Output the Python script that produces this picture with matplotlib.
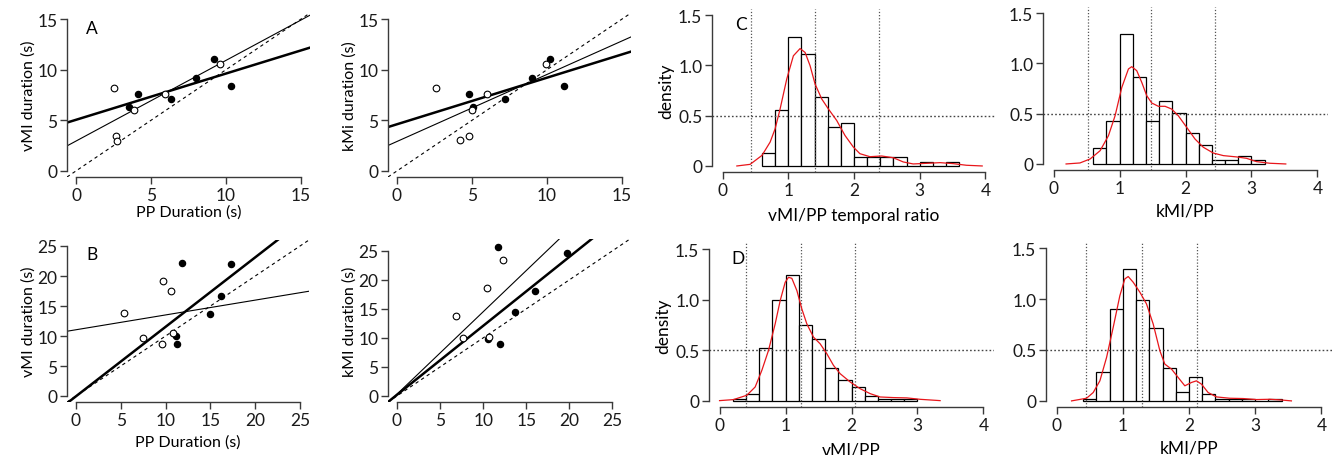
import matplotlib
matplotlib.use("Agg")
import matplotlib.pyplot as plt
import numpy as np

plt.rcParams['font.family'] = ['Lato', 'DejaVu Sans']
plt.rcParams['font.size'] = 11

W, H = 1336, 456

# ---------------- scatter data ----------------
# Panel A (vMI vs PP)
A_open_x = [2.56, 2.65, 2.76, 3.87, 5.94, 9.59]
A_open_y = [8.21, 3.43, 3.00, 6.00, 7.58, 10.55]
A_fill_x = [3.56, 4.16, 6.32, 7.99, 9.17, 10.33]
A_fill_y = [6.30, 7.55, 7.06, 9.13, 11.08, 8.34]
A_thick = (5.05, 0.457)
A_thin = (2.95, 0.797)

# Panel A2 (kMI vs PP)
A2_open_x = [2.62, 4.22, 4.82, 5.00, 6.00, 9.91]
A2_open_y = [8.21, 3.03, 3.43, 6.00, 7.62, 10.55]
A2_fill_x = [4.82, 5.07, 7.20, 9.00, 10.18, 11.16]
A2_fill_y = [7.55, 6.30, 7.09, 9.13, 11.08, 8.34]
A2_thick = (4.61, 0.46)
A2_thin = (2.91, 0.662)

# Panel B (vMI vs PP)
B_open_x = [5.35, 7.50, 9.73, 9.55, 10.55, 10.88]
B_open_y = [13.77, 9.73, 19.25, 8.63, 17.42, 10.50]
B_fill_x = [11.78, 11.14, 11.26, 14.97, 16.16, 17.35]
B_fill_y = [22.12, 10.07, 8.68, 13.72, 16.65, 22.07]
B_thick = (-0.05, 1.158)
B_thin = (11.04, 0.247)

# Panel B2 (kMI vs PP)
B2_open_x = [6.85, 7.70, 10.45, 12.35, 10.68]
B2_open_y = [13.79, 10.01, 18.59, 23.40, 10.24]
B2_fill_x = [11.76, 10.60, 12.00, 13.70, 15.98, 19.70]
B2_fill_y = [25.69, 9.84, 8.87, 14.42, 18.08, 24.60]
B2_thick = (0.2, 1.188)
B2_thin = (0.3, 1.42)

# ---------------- histogram data ----------------
C_edges = [0.6, 0.8, 1.0, 1.2, 1.4, 1.6, 1.8, 2.0, 2.2, 2.4, 2.6, 2.8, 3.0, 3.2, 3.4, 3.6]
C_dens = [0.129, 0.557, 1.279, 1.111, 0.682, 0.386, 0.425, 0.086, 0.086, 0.086, 0.086, 0.0, 0.043, 0.0, 0.043]
C_vlines = [0.435, 1.408, 2.38]
C_kde_x = [0.218, 0.42, 0.6, 0.724, 0.8, 0.876, 0.977, 1.078, 1.18, 1.256, 1.332, 1.408, 1.509, 1.61,
           1.737, 1.863, 1.99, 2.09, 2.243, 2.42, 2.597, 2.749, 2.901, 3.1, 3.31, 3.51, 3.71, 3.95]
C_kde_y = [0.0, 0.016, 0.105, 0.237, 0.369, 0.567, 0.864, 1.095, 1.167, 1.128, 0.996, 0.814, 0.666, 0.567,
           0.452, 0.303, 0.188, 0.122, 0.092, 0.099, 0.082, 0.04, 0.02, 0.026, 0.033, 0.023, 0.007, 0.0]

E_edges = [0.6, 0.8, 1.0, 1.2, 1.4, 1.6, 1.8, 2.0, 2.2, 2.4, 2.6, 2.8, 3.0, 3.2]
E_dens = [0.156, 0.427, 1.291, 0.861, 0.427, 0.623, 0.503, 0.311, 0.192, 0.039, 0.039, 0.078, 0.039]
E_vlines = [0.515, 1.483, 2.441]
E_kde_x = [0.19, 0.40, 0.555, 0.706, 0.832, 0.933, 1.034, 1.135, 1.185, 1.261, 1.337, 1.412, 1.488, 1.589,
           1.69, 1.79, 1.89, 2.018, 2.144, 2.27, 2.42, 2.573, 2.774, 2.926, 3.077, 3.28, 3.52]
E_kde_y = [0.0, 0.01, 0.05, 0.132, 0.281, 0.48, 0.76, 0.944, 0.967, 0.927, 0.811, 0.679, 0.606, 0.573,
           0.573, 0.546, 0.48, 0.364, 0.248, 0.166, 0.109, 0.083, 0.07, 0.056, 0.023, 0.007, 0.0]

D_edges = [0.2, 0.4, 0.6, 0.8, 1.0, 1.2, 1.4, 1.6, 1.8, 2.0, 2.2, 2.4, 2.6, 2.8, 3.0]
D_dens = [0.023, 0.069, 0.522, 0.998, 1.247, 0.752, 0.614, 0.322, 0.207, 0.138, 0.046, 0.023, 0.023, 0.023]
D_vlines = [0.404, 1.232, 2.06]
D_kde_x = [0.0, 0.21, 0.414, 0.54, 0.641, 0.742, 0.843, 0.919, 0.995, 1.045, 1.096, 1.172, 1.247, 1.323,
           1.424, 1.525, 1.626, 1.727, 1.828, 1.98, 2.13, 2.283, 2.434, 2.636, 2.838, 3.04, 3.343]
D_kde_y = [0.003, 0.013, 0.056, 0.138, 0.302, 0.499, 0.761, 0.991, 1.172, 1.221, 1.211, 1.09, 0.909, 0.761,
           0.63, 0.564, 0.466, 0.351, 0.269, 0.187, 0.121, 0.072, 0.039, 0.033, 0.03, 0.016, 0.003]

F_edges = [0.4, 0.6, 0.8, 1.0, 1.2, 1.4, 1.6, 1.8, 2.0, 2.2, 2.4, 2.6, 2.8, 3.0, 3.2, 3.4]
F_dens = [0.023, 0.279, 0.899, 1.296, 0.991, 0.715, 0.322, 0.092, 0.23, 0.069, 0.023, 0.023, 0.023, 0.0, 0.023]
F_vlines = [0.448, 1.283, 2.123]
F_kde_x = [0.226, 0.453, 0.553, 0.654, 0.755, 0.855, 0.956, 1.031, 1.082, 1.157, 1.258, 1.358, 1.459, 1.56,
           1.635, 1.736, 1.836, 1.937, 2.038, 2.113, 2.189, 2.289, 2.415, 2.616, 2.818, 3.019, 3.22, 3.371, 3.547]
F_kde_y = [0.0, 0.026, 0.082, 0.197, 0.427, 0.722, 1.034, 1.198, 1.221, 1.165, 1.067, 0.952, 0.755, 0.492,
           0.361, 0.312, 0.23, 0.148, 0.181, 0.197, 0.164, 0.082, 0.039, 0.026, 0.023, 0.013, 0.016, 0.01, 0.0]

AX_COLOR = '#3a3a3a'
TICK_FS = 12.5
LABEL_FS = 11.5

fig = plt.figure(figsize=(W / 100, H / 100), dpi=100)


def px_axes(left, top, right, bottom):
    return fig.add_axes([left / W, 1 - bottom / H, (right - left) / W, (bottom - top) / H])


def style(ax, xt, yt, ylabels=None):
    for s in ['top', 'right']:
        ax.spines[s].set_visible(False)
    for s in ['left', 'bottom']:
        ax.spines[s].set_color(AX_COLOR)
        ax.spines[s].set_linewidth(1.0)
    ax.spines['bottom'].set_bounds(xt[0], xt[-1])
    ax.spines['left'].set_bounds(yt[0], yt[-1])
    ax.set_xticks(xt)
    ax.set_yticks(yt)
    if ylabels is not None:
        ax.set_yticklabels(ylabels)
    ax.tick_params(direction='out', length=5, width=1.0, color=AX_COLOR, labelsize=TICK_FS,
                   labelcolor='#1a1a1a', pad=2)
    ax.patch.set_alpha(0)


def scatter_panel(ax, ox, oy, fx, fy, thick, thin, lim, ticks):
    ax.set_xlim(*lim)
    ax.set_ylim(*lim)
    xx = np.array(lim)
    ax.plot(xx, xx, ls=(0, (3, 3)), color='black', lw=0.8)
    ax.plot(xx, thin[0] + thin[1] * xx, color='black', lw=0.8)
    ax.plot(xx, thick[0] + thick[1] * xx, color='black', lw=1.8)
    ax.plot(fx, fy, 'o', color='black', ms=4.4, mec='black')
    ax.plot(ox, oy, 'o', mfc='white', mec='black', ms=4.8, mew=0.8)
    style(ax, ticks, ticks)


axA = px_axes(67, 14, 310, 178)
scatter_panel(axA, A_open_x, A_open_y, A_fill_x, A_fill_y, A_thick, A_thin, (-0.6, 15.6), [0, 5, 10, 15])
axA.set_ylabel('vMI duration (s)', labelpad=1, fontsize=LABEL_FS)
axA.set_xlabel('PP Duration (s)', labelpad=1, fontsize=LABEL_FS)
axA.text(0.08, 0.88, 'A', transform=axA.transAxes, fontsize=12.5)

axA2 = px_axes(388, 14, 631, 178)
scatter_panel(axA2, A2_open_x, A2_open_y, A2_fill_x, A2_fill_y, A2_thick, A2_thin, (-0.6, 15.6), [0, 5, 10, 15])
axA2.set_ylabel('kMi duration (s)', labelpad=1, fontsize=LABEL_FS)

axB = px_axes(67, 241, 309, 403)
scatter_panel(axB, B_open_x, B_open_y, B_fill_x, B_fill_y, B_thick, B_thin, (-1.0, 26.0), [0, 5, 10, 15, 20, 25])
axB.set_ylabel('vMI duration (s)', labelpad=1, fontsize=LABEL_FS)
axB.set_xlabel('PP Duration (s)', labelpad=5, fontsize=LABEL_FS)
axB.text(0.08, 0.88, 'B', transform=axB.transAxes, fontsize=12.5)

axB2 = px_axes(388, 240, 630, 403)
scatter_panel(axB2, B2_open_x, B2_open_y, B2_fill_x, B2_fill_y, B2_thick, B2_thin, (-1.04, 27.04), [0, 5, 10, 15, 20, 25])
axB2.set_ylabel('kMI duration (s)', labelpad=1, fontsize=LABEL_FS)


def hist_panel(ax, edges, dens, vlines, kx, ky):
    ax.set_xlim(-0.16, 4.16)
    ax.set_ylim(-0.06, 1.56)
    e = np.array(edges)
    ax.bar(e[:-1], dens, width=np.diff(e), align='edge', facecolor='white', edgecolor='black',
           linewidth=0.9)
    for v in vlines:
        ax.axvline(v, color='#555555', lw=0.9, ls=(0, (1, 1.5)))
    ax.axhline(0.5, color='#444444', lw=1.0, ls=(0, (1.2, 1.6)))
    ax.plot(kx, ky, color='#e8161b', lw=0.9)
    style(ax, [0, 1, 2, 3, 4], [0, 0.5, 1.0, 1.5], ['0', '0.5', '1.0', '1.5'])


axC = px_axes(712, 10, 996, 173)
hist_panel(axC, C_edges, C_dens, C_vlines, C_kde_x, C_kde_y)
axC.set_ylabel('density', labelpad=3, fontsize=12.5)
axC.set_xlabel('vMI/PP temporal ratio', labelpad=7, fontsize=12.5)
axC.text(0.08, 0.88, 'C', transform=axC.transAxes, fontsize=12.5)

axE = px_axes(1043, 8, 1328, 171)
hist_panel(axE, E_edges, E_dens, E_vlines, E_kde_x, E_kde_y)
axE.set_xlabel('kMI/PP', labelpad=5, fontsize=12.5)

axD = px_axes(709, 244, 994, 408)
hist_panel(axD, D_edges, D_dens, D_vlines, D_kde_x, D_kde_y)
axD.set_ylabel('density', labelpad=3, fontsize=12.5)
axD.set_xlabel('vMI/PP', labelpad=6, fontsize=12.5)
axD.text(0.08, 0.88, 'D', transform=axD.transAxes, fontsize=12.5)

axF = px_axes(1046, 243, 1332, 408)
hist_panel(axF, F_edges, F_dens, F_vlines, F_kde_x, F_kde_y)
axF.set_xlabel('kMI/PP', labelpad=5, fontsize=12.5)

fig.savefig('out.png', dpi=100)
